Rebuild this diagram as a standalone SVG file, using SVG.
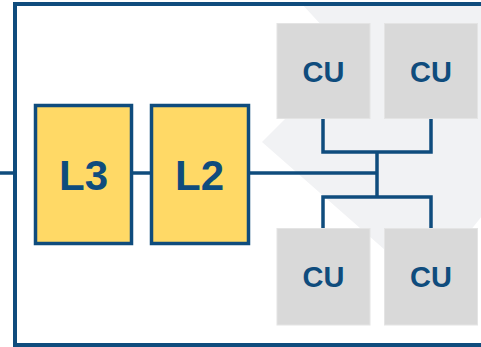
<svg xmlns="http://www.w3.org/2000/svg" width="481" height="347" viewBox="0 0 481 347">
  <style>
    .wire { stroke: #0F4C7D; stroke-width: 3.5; fill: none; }
    .cache rect { fill: #FFD966; stroke: #0F4C7D; stroke-width: 3.5; }
    .cu rect { fill: #D9D9D9; stroke: #E4E4E4; stroke-width: 1; }
    .label { font-family: "Liberation Sans", Arial, sans-serif; font-weight: bold; fill: #0F4C7D; text-anchor: middle; }
    .big { font-size: 42px; }
    .small { font-size: 29px; }
  </style>

  <!-- pale backdrop behind the compute units -->
  <polygon id="backdrop" points="300,2 349,55 262,142 426,286 490,206 490,2" fill="#F1F2F4"/>

  <!-- chip outline, running off the right edge -->
  <rect id="chip" x="15" y="4" width="500" height="341" fill="none" stroke="#0F4C7D" stroke-width="4"/>

  <g id="connectors">
    <line class="wire" x1="0" y1="173" x2="14" y2="173"/>
    <line class="wire" x1="133" y1="173" x2="150" y2="173"/>
    <line class="wire" x1="250" y1="173" x2="377" y2="173"/>
    <line class="wire" x1="377" y1="152" x2="377" y2="197"/>
    <polyline class="wire" points="323,118 323,152 431,152 431,118"/>
    <polyline class="wire" points="323,228 323,197 431,197 431,228"/>
  </g>

  <g id="L3" class="cache">
    <rect x="35.5" y="105.5" width="96" height="138"/>
    <text class="label big" x="83.5" y="190">L3</text>
  </g>
  <g id="L2" class="cache">
    <rect x="151.5" y="105.5" width="97" height="138"/>
    <text class="label big" x="199.5" y="190">L2</text>
  </g>

  <g id="cu-top-left" class="cu">
    <rect x="277" y="23.5" width="93" height="95"/>
    <text class="label small" x="323.5" y="82">CU</text>
  </g>
  <g id="cu-top-right" class="cu">
    <rect x="384.5" y="23.5" width="93" height="95"/>
    <text class="label small" x="431" y="82">CU</text>
  </g>
  <g id="cu-bottom-left" class="cu">
    <rect x="277" y="228.5" width="93" height="96.5"/>
    <text class="label small" x="323.5" y="287">CU</text>
  </g>
  <g id="cu-bottom-right" class="cu">
    <rect x="384.5" y="228.5" width="93" height="96.5"/>
    <text class="label small" x="431" y="287">CU</text>
  </g>
</svg>
